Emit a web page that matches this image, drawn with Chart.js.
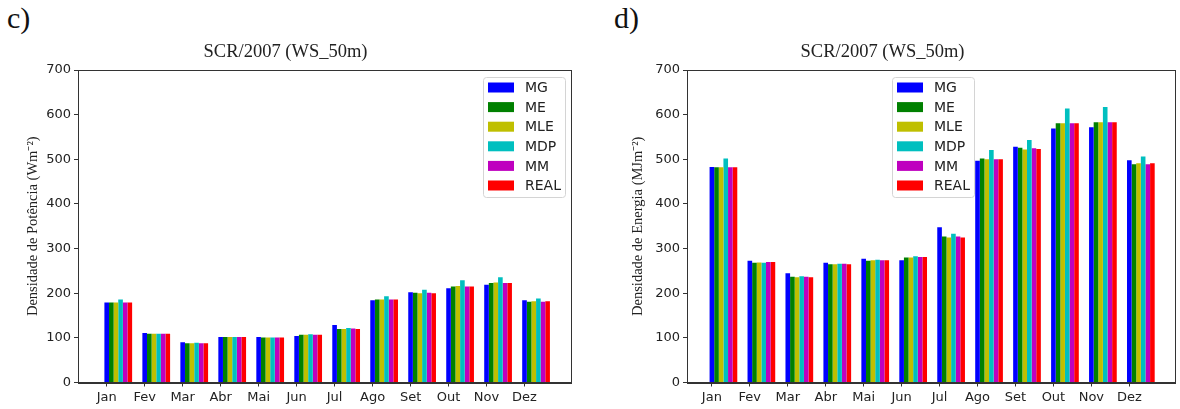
<!DOCTYPE html>
<html>
<head>
<meta charset="utf-8">
<script src="https://cdn.jsdelivr.net/npm/chart.js@4"></script>
<style>
  body { margin: 0; background: #fff; }
  #wrap { position: relative; width: 1180px; height: 409px; overflow: hidden; }
  .panel { position: absolute; top: 0; width: 590px; height: 409px; }
  .tag { position: absolute; font-family: "Liberation Serif", serif; font-size: 30px; color: #111; }
</style>
</head>
<body>
<div id="wrap">
  <div class="tag" style="left:7px;top:1px">c)</div>
  <div class="tag" style="left:614px;top:1px">d)</div>
  <div class="panel" style="left:0"><canvas id="power"></canvas></div>
  <div class="panel" style="left:590px"><canvas id="energy"></canvas></div>
</div>
<script>
const months = ['Jan', 'Fev', 'Mar', 'Abr', 'Mai', 'Jun', 'Jul', 'Ago', 'Set', 'Out', 'Nov', 'Dez'];
const methods = ['MG', 'ME', 'MLE', 'MDP', 'MM', 'REAL'];
const colors = ['#0000ff', '#008000', '#bfbf00', '#00bfbf', '#bf00bf', '#ff0000'];
const yTicks = [0, 100, 200, 300, 400, 500, 600, 700];

// densidade de potencia (W m-2)
const powerMG   = [179, 111, 90, 102, 102, 104, 129, 184, 202, 211, 219, 184];
const powerME   = [179, 109, 88, 102, 101, 107, 120, 186, 201, 215, 223, 181];
const powerMLE  = [179, 109, 88, 102, 101, 107, 120, 186, 200, 216, 224, 182];
const powerMDP  = [186, 109, 89, 102, 101, 108, 122, 193, 208, 229, 236, 188];
const powerMM   = [179, 109, 88, 102, 101, 107, 121, 186, 201, 215, 223, 181];
const powerREAL = [179, 109, 88, 102, 101, 107, 120, 186, 200, 215, 223, 182];

// densidade de energia (MJ m-2)
const energyMG   = [483, 273, 245, 268, 277, 274, 348, 497, 528, 569, 572, 498];
const energyME   = [482, 268, 237, 265, 273, 280, 327, 502, 526, 581, 583, 489];
const energyMLE  = [482, 269, 236, 265, 274, 280, 325, 500, 522, 581, 583, 491];
const energyMDP  = [502, 268, 238, 266, 275, 283, 333, 521, 543, 614, 617, 506];
const energyMM   = [482, 270, 237, 266, 274, 281, 327, 500, 525, 581, 583, 489];
const energyREAL = [482, 270, 236, 265, 274, 281, 325, 500, 523, 581, 583, 491];

const catPct = 0.73;
const barW = catPct / methods.length;   // one bar, in month units

const frame = {
  id: 'frame',
  afterDraw(chart) {
    const {ctx, chartArea: a} = chart;
    ctx.save();
    ctx.strokeStyle = '#333';
    ctx.lineWidth = 1;
    ctx.strokeRect(Math.round(a.left) + 0.5, Math.round(a.top) + 0.5,
      Math.round(a.right - a.left), Math.round(a.bottom - a.top));
    ctx.restore();
  }
};

const boxLegend = {
  id: 'boxLegend',
  afterDraw(chart, args, opts) {
    const {ctx, chartArea: a} = chart;
    const x = a.left + opts.x, y = a.top + opts.y;
    const w = 82, h = 120, row = 19.6;
    ctx.save();
    ctx.fillStyle = 'rgba(255,255,255,0.85)';
    ctx.strokeStyle = '#d4d4d4';
    ctx.lineWidth = 1;
    ctx.beginPath();
    ctx.roundRect(x + 0.5, y + 0.5, w, h, 3);
    ctx.fill();
    ctx.stroke();
    ctx.font = '14px "DejaVu Sans"';
    ctx.textBaseline = 'middle';
    chart.data.datasets.forEach((ds, i) => {
      const cy = y + 10.5 + i * row;
      ctx.fillStyle = ds.backgroundColor;
      ctx.fillRect(x + 5, cy - 5, 26, 10);
      ctx.fillStyle = '#222';
      ctx.fillText(ds.label, x + 42, cy + 1);
    });
    ctx.restore();
  }
};

function makeChart(id, series, yTitle, p) {
  const datasets = methods.map((m, k) => ({
    label: m,
    data: series[k].map((v, i) => ({x: i, y: v})),
    backgroundColor: colors[k],
    borderWidth: 0
  }));
  return new Chart(document.getElementById(id), {
    type: 'bar',
    data: {datasets},
    options: {
      responsive: true,
      maintainAspectRatio: false,
      animation: false,
      categoryPercentage: catPct,
      barPercentage: 1,
      layout: {padding: {left: 0, right: p.right, top: 0, bottom: 0}},
      plugins: {
        legend: {display: false},
        tooltip: {enabled: false},
        title: {
          display: true,
          text: 'SCR/2007 (WS_50m)',
          color: '#222',
          font: {family: '"Liberation Serif", serif', size: 18.5, weight: 'normal'},
          padding: {top: 41, bottom: 6.8}
        },
        boxLegend: {x: p.legendX, y: 7}
      },
      scales: {
        x: {
          type: 'linear',
          offset: false,
          bounds: 'data',
          min: p.xMin,
          max: p.xMax,
          afterBuildTicks: s => { s.ticks = months.map((m, i) => ({value: i - 2.5 * barW})); },
          afterFit: s => { s.height = 26.5; },
          grid: {display: true, offset: false, drawOnChartArea: false, drawTicks: true, tickLength: 4, color: '#333'},
          border: {display: true, color: '#333'},
          ticks: {
            autoSkip: false, maxRotation: 0, padding: 3, color: '#222',
            font: {family: '"DejaVu Sans"', size: 13},
            callback: (v, i) => months[i]
          }
        },
        y: {
          min: 0,
          max: 700,
          afterBuildTicks: s => { s.ticks = yTicks.map(v => ({value: v})); },
          afterFit: s => { s.width = p.yWidth; },
          grid: {display: true, drawOnChartArea: false, drawTicks: true, tickLength: 4, color: '#333'},
          border: {display: true, color: '#333'},
          ticks: {padding: 3, color: '#222', font: {family: '"DejaVu Sans"', size: 13}},
          title: {
            display: true,
            text: yTitle,
            color: '#222',
            font: {family: '"Liberation Serif", serif', size: 14.5},
            padding: {top: p.titleGap, bottom: 0}
          }
        }
      }
    },
    plugins: [frame, boxLegend]
  });
}

makeChart('power',
  [powerMG, powerME, powerMLE, powerMDP, powerMM, powerREAL],
  'Densidade de Potência (Wm⁻²)',
  {right: 19, yWidth: 78, titleGap: 24.3, xMin: -1.06, xMax: 11.92, legendX: 405});

makeChart('energy',
  [energyMG, energyME, energyMLE, energyMDP, energyMM, energyREAL],
  'Densidade de Energia (MJm⁻²)',
  {right: 5, yWidth: 97, titleGap: 39.3, xMin: -0.96, xMax: 11.9, legendX: 205});
</script>
</body>
</html>
